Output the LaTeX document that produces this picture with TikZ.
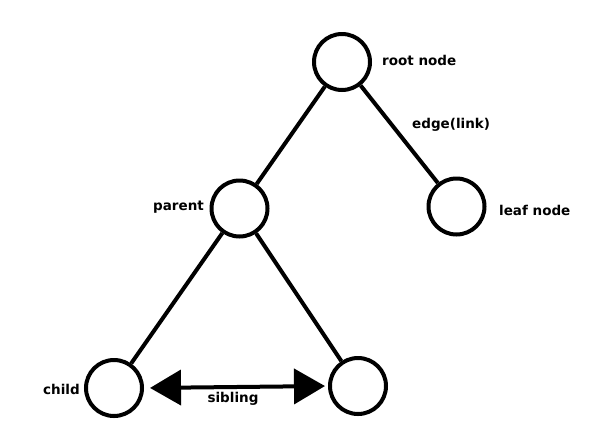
\documentclass[tikz,border=0pt]{standalone}
\usepackage{fontspec}
\setmainfont{DejaVu Sans}
\usetikzlibrary{arrows.meta}
\begin{document}
\begin{tikzpicture}[x=1pt,y=-1pt,
  treenode/.style={circle,draw=black,line width=4pt,minimum size=56pt,inner sep=0pt},
  lbl/.style={font=\fontsize{13.5}{15}\selectfont\bfseries,inner sep=0pt,text=black},
  link/.style={line width=4pt},
  sib/.style={line width=4pt,{Triangle[length=31pt,width=35pt]}-{Triangle[length=31pt,width=35pt]}}]
\useasboundingbox (0,0) rectangle (596,445);
\node[treenode] (root) at (342,62) {};
\node[treenode] (parent) at (239.5,208.5) {};
\node[treenode] (leaf) at (456.5,206.5) {};
\node[treenode] (child) at (114,388) {};
\node[treenode] (sibling) at (358,386) {};
\draw[link] (root) -- (parent);
\draw[link] (root) -- (leaf);
\draw[link] (parent) -- (child);
\draw[link] (parent) -- (sibling);
\draw[sib,shorten <=6pt,shorten >=3pt] (child.east) -- (sibling.west);
\node[lbl,anchor=west] (lroot) at (382,60) {root node};
\node[lbl,anchor=west] (ledge) at (412,125) {edge(link)};
\node[lbl,anchor=west] (lparent) at (153,207) {parent};
\node[lbl,anchor=west] (lleaf) at (499,210) {leaf node};
\node[lbl,anchor=west] (lchild) at (43,389) {child};
\node[lbl] (lsib) at (233,399) {sibling};
\end{tikzpicture}
\end{document}
